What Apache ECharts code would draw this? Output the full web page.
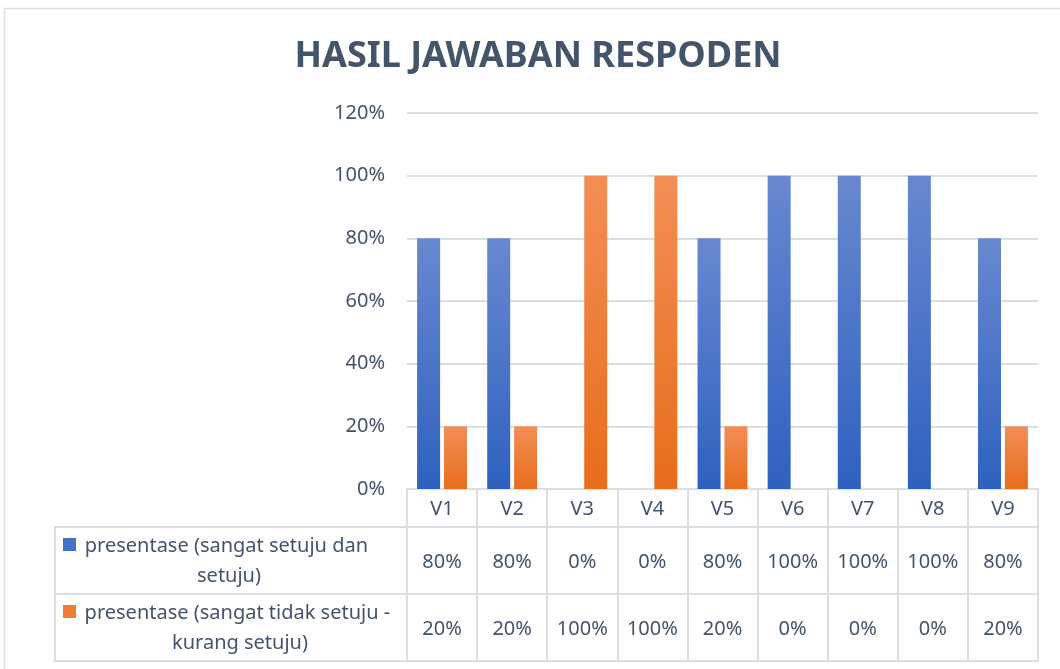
<!DOCTYPE html>
<html>
<head>
<meta charset="utf-8">
<title>HASIL JAWABAN RESPODEN</title>
<script src="https://cdn.jsdelivr.net/npm/echarts@6/dist/echarts.min.js"></script>
<style>
  html, body { margin: 0; padding: 0; background: #fff; }
  #chart { width: 1060px; height: 669px; }
</style>
</head>
<body>
<div id="chart"></div>
<script>
// data
var categories = ['V1', 'V2', 'V3', 'V4', 'V5', 'V6', 'V7', 'V8', 'V9'];
var setujuVals = [80, 80, 0, 0, 80, 100, 100, 100, 80];
var tidakSetujuVals = [20, 20, 100, 100, 20, 0, 0, 0, 20];
var seriesNames = [
  'presentase (sangat setuju dan setuju)',
  'presentase (sangat tidak setuju - kurang setuju)'
];
var yTicks = [0, 20, 40, 60, 80, 100, 120];

var textColor = '#44546A';
var lineColor = '#DADFE6';
var fontFamily = '"Noto Sans", "Open Sans", sans-serif';
var fontSize = 20;

var chart = echarts.init(document.getElementById('chart'));

function pct(v) { return v + '%'; }

// table row axes (values row 1, values row 2, bottom line)
function tableAxis(offset, labelFn) {
  return {
    type: 'category',
    position: 'bottom',
    offset: offset,
    data: categories,
    axisLine: { show: true, lineStyle: { color: lineColor, width: 2 } },
    axisTick: { show: false },
    axisLabel: {
      show: !!labelFn,
      interval: 0,
      margin: 35,
      verticalAlign: 'middle',
      color: textColor,
      fontSize: fontSize,
      fontFamily: fontFamily,
      formatter: function (v, i) { return labelFn ? labelFn(i) : ''; }
    }
  };
}

function nameText(name, x, y) {
  return {
    type: 'text',
    silent: true,
    x: x,
    y: y,
    style: {
      text: name,
      width: 318,
      overflow: 'break',
      align: 'center',
      verticalAlign: 'middle',
      lineHeight: 30,
      fill: textColor,
      fontSize: fontSize,
      fontFamily: fontFamily
    }
  };
}

function cellRect(y) {
  return {
    type: 'rect',
    silent: true,
    shape: { x: 55, y: y, width: 352, height: 67 },
    style: { fill: 'none', stroke: lineColor, lineWidth: 2 }
  };
}

chart.setOption({
  animation: false,
  title: {
    text: 'HASIL JAWABAN RESPODEN',
    left: 538,
    top: 39,
    padding: 0,
    textAlign: 'center',
    textStyle: {
      color: textColor,
      fontSize: 36,
      fontWeight: 'bold',
      fontFamily: fontFamily
    }
  },
  grid: { left: 407, right: 22, top: 113, bottom: 180 },
  yAxis: {
    type: 'value',
    min: yTicks[0],
    max: yTicks[yTicks.length - 1],
    interval: yTicks[1] - yTicks[0],
    axisLine: { show: false },
    axisTick: { show: false },
    splitLine: { lineStyle: { color: lineColor, width: 2 } },
    axisLabel: {
      margin: 22,
      color: textColor,
      fontSize: fontSize,
      fontFamily: fontFamily,
      formatter: pct
    }
  },
  xAxis: [
    {
      type: 'category',
      position: 'bottom',
      data: categories,
      axisLine: { show: true, lineStyle: { color: lineColor, width: 2 } },
      // ticks double as the vertical lines of the data table
      axisTick: { show: true, length: 172, lineStyle: { color: lineColor, width: 2 } },
      axisLabel: {
        interval: 0,
        margin: 20,
        verticalAlign: 'middle',
        color: textColor,
        fontSize: fontSize,
        fontFamily: fontFamily
      }
    },
    tableAxis(38, function (i) { return pct(setujuVals[i]); }),
    tableAxis(105, function (i) { return pct(tidakSetujuVals[i]); }),
    tableAxis(172, null)
  ],
  series: [
    {
      name: seriesNames[0],
      type: 'bar',
      barWidth: 23,
      barGap: '17%',
      itemStyle: {
        color: new echarts.graphic.LinearGradient(0, 0, 0, 1, [
          { offset: 0, color: '#6888D0' },
          { offset: 1, color: '#2E61BF' }
        ])
      },
      data: setujuVals
    },
    {
      name: seriesNames[1],
      type: 'bar',
      barWidth: 23,
      itemStyle: {
        color: new echarts.graphic.LinearGradient(0, 0, 0, 1, [
          { offset: 0, color: '#F38E56' },
          { offset: 1, color: '#E76D1B' }
        ])
      },
      data: tidakSetujuVals
    }
  ],
  graphic: [
    // chart area border
    {
      type: 'rect',
      silent: true,
      shape: { x: 4.5, y: 8.5, width: 1100, height: 700 },
      style: { fill: 'none', stroke: lineColor, lineWidth: 1.5 }
    },
    // left column of the data table (series names + keys)
    cellRect(527),
    cellRect(594),
    {
      type: 'rect',
      silent: true,
      shape: { x: 63, y: 538, width: 13, height: 13 },
      style: { fill: '#4472C4' }
    },
    {
      type: 'rect',
      silent: true,
      shape: { x: 63, y: 605, width: 13, height: 13 },
      style: { fill: '#ED7D31' }
    },
    nameText(seriesNames[0], 229, 561),
    nameText(seriesNames[1], 240, 628)
  ]
});
</script>
</body>
</html>
